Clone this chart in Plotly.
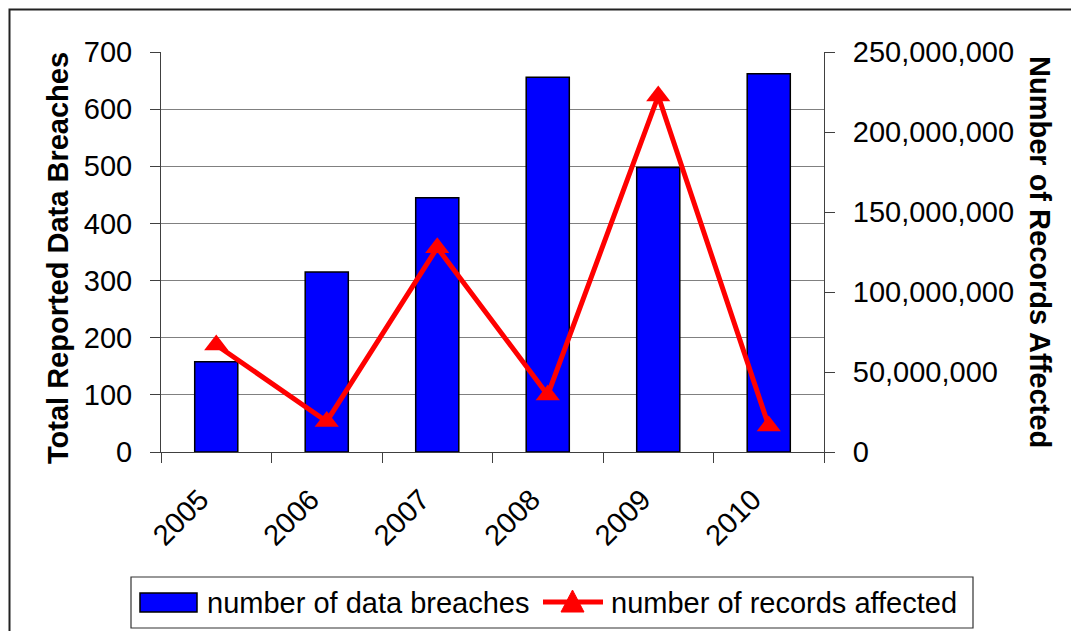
import plotly.graph_objects as go

years = ["2005", "2006", "2007", "2008", "2009", "2010"]
breaches = [158, 315, 445, 656, 498, 662]
records = [66_900_000, 19_100_000, 127_700_000, 35_700_000, 222_500_000, 16_200_000]

FONT = "Liberation Sans, Arial, sans-serif"
W, H = 1079, 631
OFF = 8  # page body margin offset
L, R, T, B = 161, 824, 52, 452  # plot area box in screen pixels


def px(x):
    return (x - L) / (R - L)


def py(y):
    return (B - y) / (B - T)


fig = go.Figure()
fig.add_trace(go.Bar(
    x=years, y=breaches, name="number of data breaches",
    marker=dict(color="#0000FF", line=dict(color="black", width=1.5)),
    width=0.39, yaxis="y", showlegend=False,
))
fig.add_trace(go.Scatter(
    x=years, y=records, name="number of records affected",
    mode="lines+markers",
    line=dict(color="#FF0000", width=5),
    marker=dict(symbol="triangle-up", size=21, color="#FF0000"),
    yaxis="y2", showlegend=False,
))

FS = 29
tickfont = dict(family=FONT, size=FS, color="black")

fig.update_layout(
    width=W, height=H,
    margin=dict(l=L - OFF, r=W - (R - OFF), t=T - OFF, b=H - (B - OFF), pad=0),
    paper_bgcolor="white", plot_bgcolor="white",
    font=dict(family=FONT, color="black"),
    xaxis=dict(
        type="category", tickson="boundaries", ticks="outside", ticklen=10,
        tickcolor="#404040", tickwidth=1, tickangle=-45, tickfont=tickfont,
        ticklabelstandoff=18, ticklabelshift=-16,
        showline=True, linecolor="#404040", linewidth=1, showgrid=False,
        range=[-0.5, 5.5],
    ),
    yaxis=dict(
        range=[0, 700], dtick=100, ticks="outside", ticklen=10,
        tickcolor="#404040", tickfont=tickfont, ticklabelstandoff=12,
        showline=True, linecolor="#404040", linewidth=1,
        showgrid=True, gridcolor="#808080", gridwidth=1.2, zeroline=False,
    ),
    yaxis2=dict(
        range=[0, 250_000_000], dtick=50_000_000, tickformat=",d",
        overlaying="y", side="right", ticks="outside", ticklen=10,
        tickcolor="#404040", tickfont=tickfont, ticklabelstandoff=12,
        showline=True, linecolor="#404040", linewidth=1,
        showgrid=False, zeroline=False,
    ),
)

# axis titles
fig.add_annotation(
    xref="paper", yref="paper", x=px(58), y=py(258),
    text="<b>Total Reported Data Breaches</b>", textangle=-90, showarrow=False,
    font=dict(family=FONT, size=FS, color="black"),
    xanchor="center", yanchor="middle",
)
fig.add_annotation(
    xref="paper", yref="paper", x=px(1040), y=py(252),
    text="<b>Number of Records Affected</b>", textangle=90, showarrow=False,
    font=dict(family=FONT, size=FS, color="black"),
    xanchor="center", yanchor="middle",
)

# outer chart border
fig.add_shape(type="rect", xref="paper", yref="paper",
              x0=px(9.5), x1=px(1095), y0=py(650), y1=py(9.5),
              line=dict(color="#222222", width=2), fillcolor="rgba(0,0,0,0)")

# custom legend
fig.add_shape(type="rect", xref="paper", yref="paper",
              x0=px(131), x1=px(973), y0=py(628), y1=py(577),
              line=dict(color="#333333", width=1.2), fillcolor="white")
fig.add_shape(type="rect", xref="paper", yref="paper",
              x0=px(140), x1=px(197), y0=py(612), y1=py(593),
              line=dict(color="black", width=1.5), fillcolor="#0000FF")
fig.add_annotation(xref="paper", yref="paper", x=px(205), y=py(603),
                   text="number of data breaches", showarrow=False,
                   xanchor="left", yanchor="middle",
                   font=dict(family=FONT, size=FS, color="black"))
fig.add_shape(type="line", xref="paper", yref="paper",
              x0=px(543), x1=px(603), y0=py(602), y1=py(602),
              line=dict(color="#FF0000", width=5))
fig.add_shape(type="path", xref="paper", yref="paper",
              path=f"M {px(561)},{py(612)} L {px(584)},{py(612)} L {px(572.5)},{py(590)} Z",
              line=dict(color="#FF0000", width=1), fillcolor="#FF0000")
fig.add_annotation(xref="paper", yref="paper", x=px(609), y=py(603),
                   text="number of records affected", showarrow=False,
                   xanchor="left", yanchor="middle",
                   font=dict(family=FONT, size=FS, color="black"))

fig.write_html("out.html")
